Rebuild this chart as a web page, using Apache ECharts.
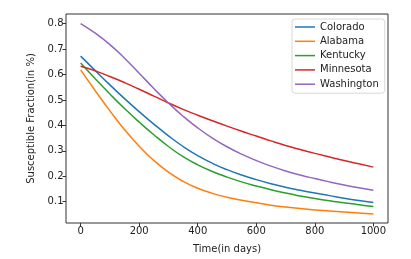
<!DOCTYPE html>
<html>
<head>
<meta charset="utf-8">
<script src="https://cdn.jsdelivr.net/npm/echarts@6/dist/echarts.min.js"></script>
<style>
html,body{margin:0;padding:0;background:#fff;}
#chart{width:411px;height:259px;}
</style>
</head>
<body>
<div id="chart"></div>
<script>
const days = [0,50,100,150,200,250,300,350,400,450,500,550,600,650,700,750,800,850,900,950,1000];
const colorado   = [0.672,0.615,0.559,0.505,0.454,0.405,0.359,0.317,0.281,0.251,0.226,0.205,0.187,0.171,0.157,0.145,0.134,0.124,0.114,0.105,0.097];
const alabama    = [0.618,0.536,0.457,0.383,0.318,0.262,0.216,0.180,0.153,0.133,0.118,0.106,0.096,0.086,0.079,0.073,0.068,0.064,0.060,0.056,0.052];
const kentucky   = [0.645,0.583,0.523,0.466,0.413,0.363,0.317,0.277,0.245,0.219,0.197,0.178,0.162,0.147,0.134,0.123,0.113,0.104,0.096,0.088,0.081];
const minnesota  = [0.632,0.614,0.592,0.568,0.542,0.515,0.488,0.463,0.440,0.418,0.397,0.377,0.358,0.339,0.321,0.305,0.290,0.276,0.262,0.249,0.236];
const washington = [0.800,0.762,0.717,0.664,0.605,0.545,0.488,0.436,0.390,0.350,0.316,0.287,0.262,0.240,0.221,0.205,0.191,0.178,0.166,0.155,0.145];
const seriesNames = ['Colorado','Alabama','Kentucky','Minnesota','Washington'];
const seriesValues = [colorado, alabama, kentucky, minnesota, washington];
const colors = ['#1f77b4','#ff7f0e','#2ca02c','#d62728','#9467bd'];
const xTicks = [0,200,400,600,800,1000];
const yTicks = [0.1,0.2,0.3,0.4,0.5,0.6,0.7,0.8];

const font = 'DejaVu Sans';
const chart = echarts.init(document.getElementById('chart'), null, {renderer:'canvas'});
chart.setOption({
  animation:false,
  backgroundColor:'#fff',
  color: colors,
  grid:{left:66, top:14, right:23, bottom:36, show:true, borderColor:'#333', borderWidth:1, backgroundColor:'#fff'},
  legend:{
    orient:'vertical', left:292, top:19,
    padding:[2,6,3,3], itemGap:2.3, itemWidth:20, itemHeight:1.5, icon:'rect', itemTextGap:7,
    borderColor:'#d8d8d8', borderWidth:1, borderRadius:3, backgroundColor:'rgba(255,255,255,0.8)',
    textStyle:{fontFamily:font, fontSize:10, color:'#222', lineHeight:12},
    data: seriesNames
  },
  xAxis:{
    type:'value', min:-50, max:1050,
    name:'Time(in days)', nameLocation:'middle', nameGap:21,
    nameTextStyle:{fontFamily:font, fontSize:10, color:'#222'},
    axisLine:{show:false, onZero:false},
    axisTick:{show:true, inside:false, length:3.5, lineStyle:{color:'#333'}, customValues:xTicks},
    axisLabel:{fontFamily:font, fontSize:10, color:'#222', margin:3.5, customValues:xTicks, formatter:v=>String(Math.round(v))},
    splitLine:{show:false}
  },
  yAxis:{
    type:'value', min:0.0165, max:0.8375,
    name:'Susceptible Fraction(in %)', nameLocation:'middle', nameGap:28, nameRotate:90,
    nameTextStyle:{fontFamily:font, fontSize:10, color:'#222'},
    axisLine:{show:false, onZero:false},
    axisTick:{show:true, inside:false, length:3.5, lineStyle:{color:'#333'}, customValues:yTicks},
    axisLabel:{fontFamily:font, fontSize:10, color:'#222', margin:2.5, customValues:yTicks, formatter:v=>v.toFixed(1)},
    splitLine:{show:false}
  },
  series: seriesNames.map((n,i)=>({
    name:n, type:'line', smooth:0.5, showSymbol:false, symbol:'none',
    lineStyle:{width:1.5, color:colors[i]}, itemStyle:{color:colors[i]},
    data: days.map((d,j)=>[d, seriesValues[i][j]])
  }))
});
</script>
</body>
</html>
